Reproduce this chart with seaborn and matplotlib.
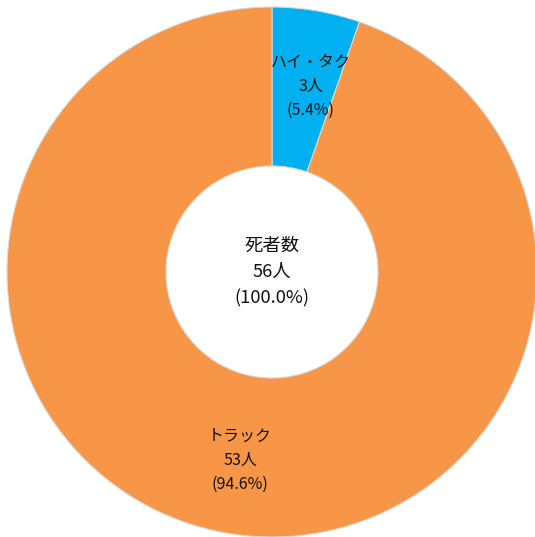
import matplotlib
matplotlib.use("Agg")
import matplotlib.pyplot as plt
import seaborn as sns

# data
categories = ["ハイ・タク", "トラック"]
deaths = [3, 53]
colors = ["#00B0F0", "#F79646"]
center_title = "死者数"

sns.set_theme(style="white")
plt.rcParams["font.family"] = ["Noto Sans CJK JP", "DejaVu Sans"]

total = sum(deaths)
labels = [f"{c}\n{v}人\n({v / total * 100:.1f}%)" for c, v in zip(categories, deaths)]

fig = plt.figure(figsize=(5.35, 5.37), dpi=100)
# place the donut so it runs a bit past the bottom/right edge like the original
ax = fig.add_axes([7 / 535, 0 / 537, 530 / 535, 530 / 537])

wedges, texts = ax.pie(
    deaths,
    labels=labels,
    colors=colors,
    startangle=90,
    counterclock=False,
    radius=1.0,
    labeldistance=0.72,
    wedgeprops=dict(width=0.6, edgecolor="#d9d9d9", linewidth=0.8),
    textprops=dict(fontsize=11.5, ha="center", va="center", linespacing=1.55,
                   color="#111111"),
)
for t in texts:
    t.set_horizontalalignment("center")
    t.set_verticalalignment("center")

# small nudge of the narrow slice's label, like excel puts it
x0, y0 = texts[0].get_position()
texts[0].set_position((x0 + 0.025, y0 - 0.01))

ax.text(0, 0, f"{center_title}\n{total}人\n(100.0%)", ha="center", va="center",
        fontsize=13.2, linespacing=1.6, color="#111111")

ax.set_xlim(-1, 1)
ax.set_ylim(-1, 1)
ax.set_aspect("auto")
ax.axis("off")

fig.savefig("out.png", dpi=100)
